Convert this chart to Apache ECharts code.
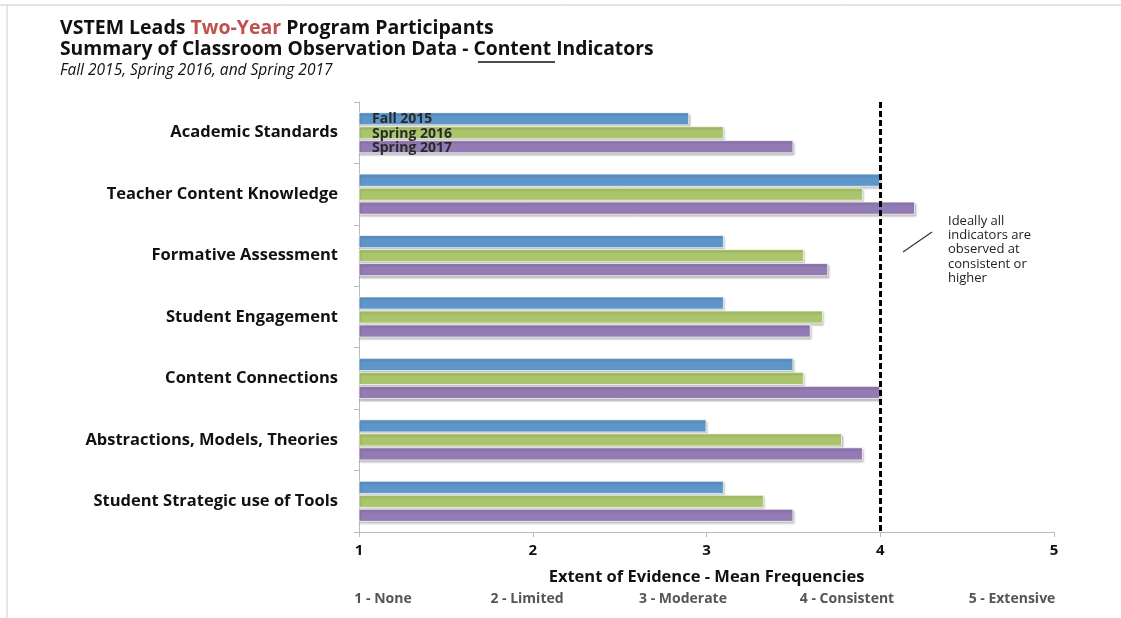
<!DOCTYPE html>
<html>
<head>
<meta charset="utf-8">
<script src="https://cdn.jsdelivr.net/npm/echarts@6/dist/echarts.min.js"></script>
<style>
html,body{margin:0;padding:0;background:#fff;}
#chart{width:1121px;height:618px;}
</style>
</head>
<body>
<div id="chart"></div>
<script>
const categories = [
  'Academic Standards',
  'Teacher Content Knowledge',
  'Formative Assessment',
  'Student Engagement',
  'Content Connections',
  'Abstractions, Models, Theories',
  'Student Strategic use of Tools'
];
const seriesNames = ['Fall 2015', 'Spring 2016', 'Spring 2017'];
const fall2015   = [2.9, 4.0, 3.1, 3.1, 3.5, 3.0, 3.1];
const spring2016 = [3.1, 3.9, 3.56, 3.67, 3.56, 3.78, 3.33];
const spring2017 = [3.5, 4.2, 3.7, 3.6, 4.0, 3.9, 3.5];
const seriesColors = ['#5f96c9', '#abc56c', '#937bb3'];
const xTicks = [1, 2, 3, 4, 5];
const scaleLabels = ['1 - None', '2 - Limited', '3 - Moderate', '4 - Consistent', '5 - Extensive'];
const targetValue = 4;

const FONT = '"Open Sans", Lato, sans-serif';
const chart = echarts.init(document.getElementById('chart'));
const values = [fall2015, spring2016, spring2017];

const series = seriesNames.map((name, i) => ({
  name: name,
  type: 'bar',
  data: values[i],
  barGap: '6%',
  barCategoryGap: '33%',
  itemStyle: {
    color: seriesColors[i],
    borderColor: 'rgba(255,255,255,0.7)',
    borderWidth: 1,
    shadowColor: 'rgba(0,0,0,0.25)',
    shadowBlur: 2,
    shadowOffsetX: 1,
    shadowOffsetY: 2
  },
  silent: true,
  z: 2
}));
series[0].markLine = {
  silent: true,
  symbol: 'none',
  label: { show: false },
  lineStyle: { color: '#000', width: 3, type: [6, 3] },
  data: [{ xAxis: targetValue }],
  z: 5
};

const scaleCenters = [383, 527, 683, 847, 1012];

chart.setOption({
  animation: false,
  backgroundColor: '#fff',
  grid: { left: 359, right: 67, top: 102, bottom: 86 },
  legend: {
    data: seriesNames,
    orient: 'vertical',
    left: 361,
    top: 107,
    padding: 5,
    icon: 'rect',
    itemWidth: 0,
    itemHeight: 0,
    itemGap: 0,
    selectedMode: false,
    textStyle: { fontFamily: FONT, fontWeight: 'bold', fontSize: 14, color: '#2a2a2a', lineHeight: 14.5, padding: 0 }
  },
  xAxis: {
    type: 'value',
    min: 1,
    max: 5,
    interval: 1,
    splitLine: { show: false },
    axisLine: { show: true, lineStyle: { color: '#bbb', width: 1 } },
    axisTick: { show: true, length: 5, lineStyle: { color: '#bbb' } },
    axisLabel: {
      fontFamily: FONT, fontWeight: 'bold', fontSize: 15, color: '#111', margin: 11
    },
    name: 'Extent of Evidence - Mean Frequencies',
    nameLocation: 'middle',
    nameGap: 37,
    nameTextStyle: { fontFamily: FONT, fontWeight: 'bold', fontSize: 16.5, color: '#111' }
  },
  yAxis: {
    type: 'category',
    data: categories,
    inverse: true,
    axisLine: { show: true, lineStyle: { color: '#bbb', width: 1 } },
    axisTick: { show: true, length: 5, lineStyle: { color: '#bbb' } },
    axisLabel: { fontFamily: FONT, fontWeight: 'bold', fontSize: 16.5, color: '#111', margin: 21 }
  },
  series: series,
  graphic: [
    { type: 'line', shape: { x1: 0, y1: 5, x2: 1121, y2: 5 }, style: { stroke: '#ccc', lineWidth: 1 } },
    { type: 'line', shape: { x1: 7, y1: 5, x2: 7, y2: 618 }, style: { stroke: '#ccc', lineWidth: 1 } },
    {
      type: 'text', left: 60, top: 18,
      style: {
        text: '{a|VSTEM Leads }{r|Two-Year}{a| Program Participants}',
        rich: {
          a: { fontFamily: FONT, fontWeight: 'bold', fontSize: 19.5, fill: '#111' },
          r: { fontFamily: FONT, fontWeight: 'bold', fontSize: 19.5, fill: '#c0504d' }
        }
      }
    },
    {
      type: 'text', left: 60, top: 40,
      style: {
        text: 'Summary of Classroom Observation Data - Content Indicators',
        fontFamily: FONT, fontWeight: 'bold', fontSize: 19.3, fill: '#111'
      }
    },
    { type: 'line', shape: { x1: 478, y1: 62, x2: 555, y2: 62 }, style: { stroke: '#111', lineWidth: 1.3 } },
    {
      type: 'text', left: 60, top: 63,
      style: { text: 'Fall 2015, Spring 2016, and Spring 2017', fontFamily: FONT, fontStyle: 'italic', fontSize: 15.5, fill: '#111' }
    },
    {
      type: 'text', left: 948, top: 214,
      style: {
        text: 'Ideally all\nindicators are\nobserved at\nconsistent or\nhigher',
        fontFamily: FONT, fontSize: 13, lineHeight: 14.3, fill: '#222'
      }
    },
    { type: 'line', shape: { x1: 903, y1: 252, x2: 932, y2: 232 }, style: { stroke: '#333', lineWidth: 1.2 } }
  ].concat(scaleLabels.map((t, i) => ({
    type: 'text', x: scaleCenters[i], y: 592,
    style: { text: t, fontFamily: FONT, fontWeight: 'bold', fontSize: 14, fill: '#555', align: 'center' }
  })))
});
</script>
</body>
</html>
